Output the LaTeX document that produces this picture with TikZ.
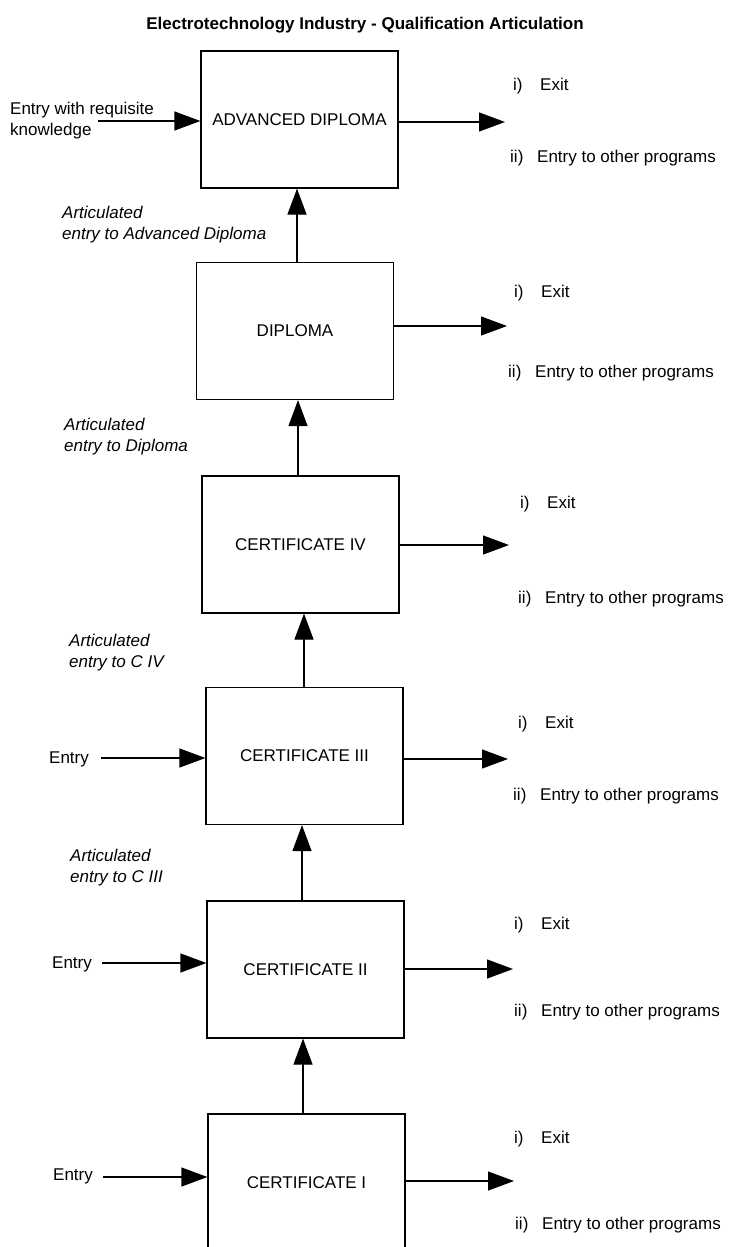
\documentclass[tikz,border=0pt]{standalone}
\usepackage{fontspec}
\setmainfont{Liberation Sans}
\usetikzlibrary{arrows.meta,calc}
\newcommand\qnum[2]{\makebox[27pt][l]{#1}#2}
\begin{document}
\begin{tikzpicture}[x=1pt,y=-1pt,
  every node/.style={font=\fontsize{17}{21}\selectfont, inner sep=0pt, text=black},
  qbox/.style={draw, line width=1.2pt, minimum width=197pt, minimum height=137pt, inner sep=0pt},
  arr/.style={line width=1.2pt, -{Triangle[length=26pt,width=19pt]}},
  artic/.style={font=\itshape\fontsize{17}{21}\selectfont, align=left, anchor=north west},
  outl/.style={anchor=base west}]
\useasboundingbox (0,0) rectangle (728,1247);
\fill[white] (0,0) rectangle (728,1247);

% title
\node[font=\bfseries\fontsize{17}{21}\selectfont, anchor=base] (title) at (365,30) {Electrotechnology Industry - Qualification Articulation};

% boxes
\node[qbox] (adv) at (299.5,119.5) {ADVANCED DIPLOMA};
\node[qbox] (dip) at (295,331) {DIPLOMA};
\node[qbox] (c4) at (300.5,544.5) {CERTIFICATE IV};
\node[qbox] (c3) at (304.5,756) {CERTIFICATE III};
\node[qbox] (c2) at (305.5,969.5) {CERTIFICATE II};
\node[qbox] (c1) at (306.5,1182.5) {CERTIFICATE I};

% upward articulation arrows
\coordinate (u1) at ($(dip.north)+(2,0)$);
\coordinate (u2) at ($(c4.north)+(-2.5,0)$);
\coordinate (u3) at ($(c3.north)+(-0.5,0)$);
\coordinate (u4) at ($(c2.north)+(-3.5,0)$);
\coordinate (u5) at ($(c1.north)+(-3.5,0)$);
\draw[arr] (u1) -- (u1 |- adv.south);
\draw[arr] (u2) -- (u2 |- dip.south);
\draw[arr] (u3) -- (u3 |- c4.south);
\draw[arr] (u4) -- (u4 |- c3.south);
\draw[arr] (u5) -- (u5 |- c2.south);

% entry arrows
\coordinate (ea) at (98,121);
\coordinate (eb) at (101,758);
\coordinate (ec) at (102,963);
\coordinate (ed) at (103,1177);
\draw[arr] (ea) -- (ea -| adv.west);
\draw[arr] (eb) -- (eb -| c3.west);
\draw[arr] (ec) -- (ec -| c2.west);
\draw[arr] (ed) -- (ed -| c1.west);

% exit arrows
\coordinate (xa) at (505,122);
\coordinate (xb) at (507,326);
\coordinate (xc) at (509,545);
\coordinate (xd) at (508,759);
\coordinate (xe) at (513,969);
\coordinate (xf) at (514,1181);
\draw[arr] (xa -| adv.east) -- (xa);
\draw[arr] (xb -| dip.east) -- (xb);
\draw[arr] (xc -| c4.east) -- (xc);
\draw[arr] (xd -| c3.east) -- (xd);
\draw[arr] (xe -| c2.east) -- (xe);
\draw[arr] (xf -| c1.east) -- (xf);

% entry labels
\node[anchor=north west, align=left] (lea) at (10,102) {Entry with requisite\\knowledge};
\node[outl] (leb) at (49,763) {Entry};
\node[outl] (lec) at (52,968) {Entry};
\node[outl] (led) at (53,1180) {Entry};

% articulation labels
\node[artic] (la1) at (62,205.5) {Articulated\\entry to Advanced Diploma};
\node[artic] (la2) at (64,417.5) {Articulated\\entry to Diploma};
\node[artic] (la3) at (69,633.5) {Articulated\\entry to C IV};
\node[artic] (la4) at (70,848.5) {Articulated\\entry to C III};

% exit labels
\node[outl] (oa1) at (513,90) {\qnum{i)}{Exit}};
\node[outl] (oa2) at (510,162) {\qnum{ii)}{Entry to other programs}};
\node[outl] (ob1) at (514,297) {\qnum{i)}{Exit}};
\node[outl] (ob2) at (508,377) {\qnum{ii)}{Entry to other programs}};
\node[outl] (oc1) at (520,508) {\qnum{i)}{Exit}};
\node[outl] (oc2) at (518,603) {\qnum{ii)}{Entry to other programs}};
\node[outl] (od1) at (518,728) {\qnum{i)}{Exit}};
\node[outl] (od2) at (513,800) {\qnum{ii)}{Entry to other programs}};
\node[outl] (oe1) at (514,929) {\qnum{i)}{Exit}};
\node[outl] (oe2) at (514,1016) {\qnum{ii)}{Entry to other programs}};
\node[outl] (of1) at (514,1143) {\qnum{i)}{Exit}};
\node[outl] (of2) at (515,1229) {\qnum{ii)}{Entry to other programs}};
\end{tikzpicture}
\end{document}
